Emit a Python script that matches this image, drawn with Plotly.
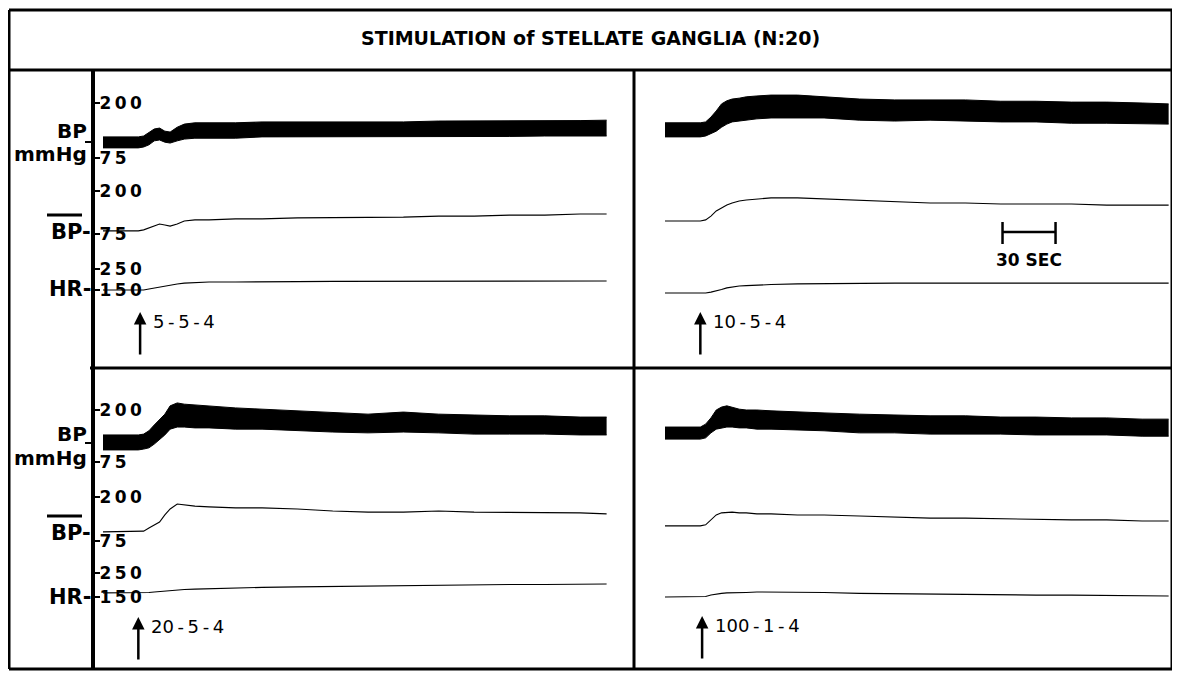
import plotly.graph_objects as go

# page is drawn with an 8px body margin, so the figure is sized to fit
OFF = 8
W, H = 1180 - OFF, 674 - OFF

# ---------------- data ----------------
title_text = "STIMULATION of STELLATE GANGLIA (N:20)"
time_s = [0, 10, 20, 23, 26, 29, 32, 35, 38, 42, 46, 52, 60, 75, 90, 110,
          130, 150, 170, 190, 210, 230, 250, 270, 285]

panel_labels = ["5-5-4", "10-5-4", "20-5-4", "100-1-4"]
stim_times = [21, 20, 20, 21]

# panel 1 (5-5-4)
p1_sys = [123, 123, 123, 125, 134, 141, 143, 136, 134, 145, 152, 155, 155, 155, 157, 157, 157, 157, 157, 159, 159, 159, 160, 160, 161]
p1_dia = [98, 98, 98, 100, 105, 114, 116, 111, 109, 114, 118, 120, 120, 120, 123, 123, 123, 123, 123, 123, 123, 124, 125, 125, 125]
p1_mean = [84, 84, 84, 87, 92, 98, 104, 101, 98, 104, 113, 116, 116, 119, 119, 122, 122, 124, 124, 127, 127, 130, 130, 133, 133]
p1_hr = [150, 150, 150, 150, 155, 160, 164, 169, 174, 179, 183, 186, 188, 188, 190, 190, 191, 191, 191, 192, 192, 192, 193, 193, 193]
# panel 2 (10-5-4)
p2_sys = [155, 155, 155, 157, 168, 182, 198, 205, 209, 211, 214, 216, 218, 218, 214, 209, 207, 207, 207, 204, 204, 202, 202, 200, 198]
p2_dia = [123, 123, 123, 125, 130, 136, 145, 152, 157, 159, 161, 164, 166, 166, 166, 161, 159, 161, 159, 157, 157, 154, 154, 152, 152]
p2_mean = [113, 113, 113, 116, 127, 142, 151, 159, 165, 171, 174, 177, 180, 180, 177, 171, 168, 165, 165, 162, 162, 162, 159, 159, 159]
p2_hr = [136, 136, 136, 136, 140, 145, 152, 160, 164, 169, 171, 174, 176, 179, 181, 183, 183, 183, 183, 183, 183, 183, 183, 183, 183]
# panel 3 (20-5-4)
p3_sys = [140, 140, 140, 142, 150, 164, 176, 190, 210, 217, 214, 212, 210, 205, 202, 198, 193, 190, 195, 190, 188, 186, 186, 183, 183]
p3_dia = [104, 104, 104, 106, 109, 118, 128, 140, 154, 159, 159, 157, 157, 154, 154, 150, 147, 145, 147, 145, 142, 142, 142, 140, 140]
p3_mean = [101, 101, 101, 103, 112, 120, 129, 149, 166, 180, 177, 174, 172, 169, 169, 166, 160, 157, 157, 160, 157, 157, 155, 155, 152]
p3_hr = [167, 167, 167, 167, 169, 171, 173, 175, 177, 179, 181, 183, 185, 188, 190, 192, 194, 196, 198, 200, 200, 202, 202, 204, 204]
# panel 4 (100-1-4)
p4_sys = [159, 159, 159, 166, 181, 200, 207, 210, 207, 202, 200, 200, 198, 195, 193, 190, 188, 186, 186, 183, 183, 181, 181, 178, 178]
p4_dia = [130, 130, 130, 133, 145, 154, 157, 159, 159, 157, 157, 154, 154, 152, 150, 145, 145, 142, 142, 142, 140, 140, 140, 137, 137]
p4_mean = [118, 118, 118, 121, 135, 149, 155, 157, 157, 155, 155, 152, 152, 149, 149, 146, 143, 140, 140, 138, 138, 135, 135, 132, 132]
p4_hr = [150, 150, 150, 152, 158, 163, 165, 167, 167, 169, 169, 171, 171, 171, 169, 165, 163, 163, 160, 160, 158, 158, 156, 156, 154]

bp_ticks = [75, 200]
mbp_ticks = [75, 200]
hr_ticks = [150, 250]

scale_bar_start = 191
scale_bar_len = 30
scale_bar_label = "30 SEC"

panels = [
    dict(sys=p1_sys, dia=p1_dia, mean=p1_mean, hr=p1_hr),
    dict(sys=p2_sys, dia=p2_dia, mean=p2_mean, hr=p2_hr),
    dict(sys=p3_sys, dia=p3_dia, mean=p3_mean, hr=p3_hr),
    dict(sys=p4_sys, dia=p4_dia, mean=p4_mean, hr=p4_hr),
]

# ---------------- layout geometry (page pixels) ----------------
def px(x):
    return (x - OFF) / W

def py(y):
    return 1 - (y - OFF) / H

col_px = [(93, 634), (634, 1175)]
x_ranges = [(-5.66, 300.5), (-17.54, 288.6)]
row_sub_px = [
    [(85, 175), (180, 245), (255, 300)],
    [(385, 475), (482, 555), (560, 610)],
]
row_ranges = [
    [(36.4, 240.9), (43.0, 232.0), (102.4, 316.7)],
    [(43.7, 260.1), (35.2, 242.6), (95.8, 304.2)],
]
arrow_tip_px = [312, 312, 617, 616]

BLACK = "black"
FONT = "DejaVu Sans"

fig = go.Figure()
layout = dict(
    width=W, height=H,
    margin=dict(l=0, r=0, t=0, b=0),
    paper_bgcolor="white", plot_bgcolor="rgba(0,0,0,0)",
    showlegend=False,
)

def spaced(s):
    return "\u2009".join(list(s))

for i, p in enumerate(panels):
    r, c = divmod(i, 2)
    xid = "x" if i == 0 else f"x{i+1}"
    xkey = "xaxis" if i == 0 else f"xaxis{i+1}"
    hr_yidx = i * 3 + 3
    layout[xkey] = dict(
        domain=[max(0, px(col_px[c][0])), min(1, px(col_px[c][1]))],
        range=list(x_ranges[c]), visible=False, fixedrange=True,
        anchor=f"y{hr_yidx}",
    )
    tick_sets = [bp_ticks, mbp_ticks, hr_ticks]
    for j in range(3):
        yidx = i * 3 + j + 1
        ykey = "yaxis" if yidx == 1 else f"yaxis{yidx}"
        top, bot = row_sub_px[r][j]
        ax = dict(
            domain=[py(bot), py(top)],
            range=list(row_ranges[r][j]),
            anchor=xid, showgrid=False, zeroline=False, showline=False,
            fixedrange=True,
        )
        if c == 0:
            ax.update(
                tickmode="array", tickvals=tick_sets[j],
                ticktext=[spaced(str(v)) for v in tick_sets[j]],
                ticks="inside", ticklen=7, tickwidth=2, tickcolor=BLACK,
                ticklabelposition="inside",
                tickfont=dict(family=FONT, size=17, color=BLACK, weight="bold"),
            )
        else:
            ax.update(showticklabels=False, ticks="")
        layout[ykey] = ax

    y_bp = "y" if i == 0 else f"y{i*3+1}"
    y_mbp = f"y{i*3+2}"
    y_hr = f"y{i*3+3}"
    fig.add_trace(go.Scatter(x=time_s, y=p["dia"], xaxis=xid, yaxis=y_bp,
                             mode="lines", line=dict(color=BLACK, width=1),
                             hoverinfo="skip"))
    fig.add_trace(go.Scatter(x=time_s, y=p["sys"], xaxis=xid, yaxis=y_bp,
                             mode="lines", line=dict(color=BLACK, width=1),
                             fill="tonexty", fillcolor=BLACK, hoverinfo="skip"))
    fig.add_trace(go.Scatter(x=time_s, y=p["mean"], xaxis=xid, yaxis=y_mbp,
                             mode="lines", line=dict(color=BLACK, width=1.1),
                             hoverinfo="skip"))
    fig.add_trace(go.Scatter(x=time_s, y=p["hr"], xaxis=xid, yaxis=y_hr,
                             mode="lines", line=dict(color=BLACK, width=1.1),
                             hoverinfo="skip"))

fig.update_layout(**layout)

shapes = []
def pline(x0, y0, x1, y1, w=3):
    shapes.append(dict(type="line", xref="paper", yref="paper",
                       x0=px(x0), y0=py(y0), x1=px(x1), y1=py(y1),
                       line=dict(color=BLACK, width=w)))

# frame
pline(9, 10, 1172, 10, 3)
pline(9, 669, 1172, 669, 3)
pline(9, 10, 9, 669, 3)
pline(1172, 10, 1172, 669, 3)
pline(9, 70, 1172, 70, 3)
pline(93, 70, 93, 669, 4)
pline(634, 70, 634, 669, 3)
pline(90, 368, 1172, 368, 3)

annotations = []
def ptext(x, y, text, size=22, anchor="right", weight="bold", family=FONT):
    annotations.append(dict(xref="paper", yref="paper", x=px(x), y=py(y),
                            text=text, showarrow=False, xanchor=anchor,
                            yanchor="middle",
                            font=dict(family=family, size=size, color=BLACK,
                                      weight=weight)))

# title
ptext(590, 38, title_text, size=19, anchor="center")

# left labels per row
for r, (bp_y, mm_y, dash_y, mbp_y, ol_y, hr_y) in enumerate(
        [(131, 154, 142, 232, 215, 289), (434, 458, 443, 533, 516, 597)]):
    ptext(89, bp_y, "BP", size=20)
    ptext(89, mm_y, "mmHg", size=20)
    pline(85, dash_y, 93, dash_y, 2)
    ptext(93, mbp_y, "BP-", size=21)
    pline(47, ol_y, 82, ol_y, 3)
    ptext(93, hr_y, "HR-", size=21)

# stimulation arrows and labels
for i, lab in enumerate(panel_labels):
    xid = "x" if i == 0 else f"x{i+1}"
    tip = arrow_tip_px[i]
    annotations.append(dict(xref=xid, yref="paper", x=stim_times[i], y=py(tip),
                            ax=0, ay=44, axref="pixel", ayref="pixel",
                            showarrow=True, arrowhead=2, arrowsize=1,
                            arrowwidth=2.5, arrowcolor=BLACK, text=""))
    annotations.append(dict(xref=xid, yref="paper", x=stim_times[i], y=py(tip + 9),
                            xshift=11, text=lab.replace("-", "\u2009-\u2009"),
                            showarrow=False, xanchor="left", yanchor="middle",
                            font=dict(family=FONT, size=18, color=BLACK)))

# 30 s scale bar (top-right panel)
bar_y = 232
shapes.append(dict(type="line", xref="x2", yref="paper",
                   x0=scale_bar_start, x1=scale_bar_start + scale_bar_len,
                   y0=py(bar_y), y1=py(bar_y), line=dict(color=BLACK, width=2.5)))
for xv in (scale_bar_start, scale_bar_start + scale_bar_len):
    shapes.append(dict(type="line", xref="x2", yref="paper", x0=xv, x1=xv,
                       y0=py(222), y1=py(244), line=dict(color=BLACK, width=2.5)))
annotations.append(dict(xref="x2", yref="paper",
                        x=scale_bar_start + scale_bar_len / 2, y=py(260),
                        text=scale_bar_label, showarrow=False, xanchor="center",
                        yanchor="middle",
                        font=dict(family=FONT, size=17, color=BLACK, weight="bold")))

fig.update_layout(shapes=shapes, annotations=annotations)
fig.write_html("out.html")
